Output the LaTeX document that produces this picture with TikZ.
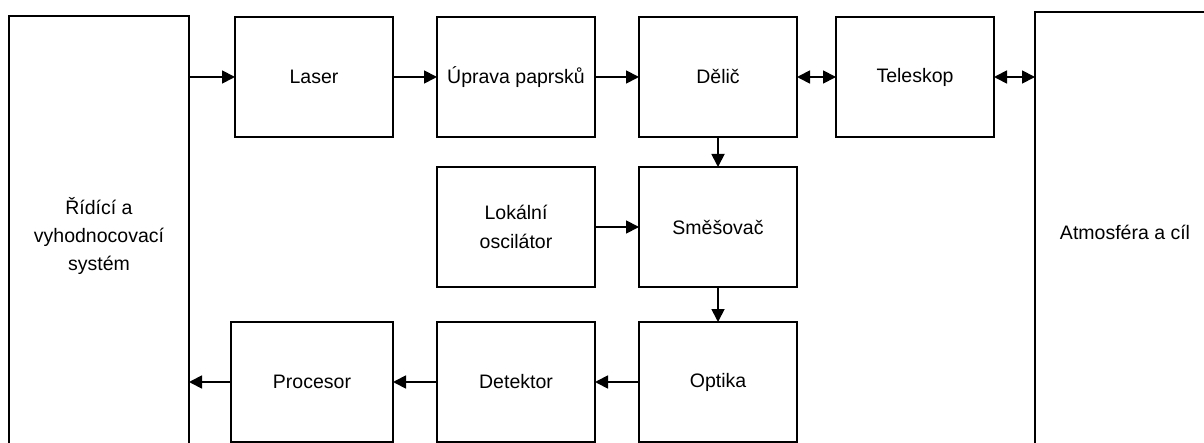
\documentclass[tikz,border=0pt]{standalone}
\usepackage{fontspec}
\setmainfont{Liberation Sans}
\usepackage{tikz}
\usetikzlibrary{arrows.meta,positioning}

\begin{document}
\begin{tikzpicture}[
  blk/.style={draw, line width=0.9pt, align=center, inner sep=2pt, outer sep=0pt,
              minimum width=79pt, minimum height=60pt,
              font=\fontsize{9.75}{14.2}\selectfont},
  sidebox/.style={blk, minimum width=90pt, minimum height=220pt},
  farr/.style={-{Triangle[length=6.5pt,width=6.5pt]}, line width=0.9pt},
  darr/.style={{Triangle[length=6.5pt,width=6.5pt]}-{Triangle[length=6.5pt,width=6.5pt]}, line width=0.9pt},
  node distance=22pt
]
\clip (0,0) rectangle (602pt,-221.5pt);
\node[sidebox] (ctrl) at (49.5pt,-118pt) {Řídící a\\vyhodnocovací\\systém};
\node[sidebox] (atm) at (562.5pt,-116pt) {Atmosféra a cíl};
\node[blk] (laser) at (157pt,-38.5pt) {Laser};
\node[blk, right=of laser] (uprava) {Úprava paprsků};
\node[blk, right=of uprava] (delic) {Dělič};
\node[blk, right=19.5pt of delic] (teleskop) {Teleskop};
\node[blk, below=15pt of delic] (smesovac) {Směšovač};
\node[blk, left=of smesovac] (lo) {Lokální\\oscilátor};
\node[blk, below=17.5pt of smesovac] (optika) {Optika};
\node[blk, left=of optika] (detektor) {Detektor};
\node[blk, left=of detektor, minimum width=81pt] (procesor) {Procesor};
\draw[farr] (laser -| ctrl.east) -- (laser);
\draw[farr] (laser) -- (uprava);
\draw[farr] (uprava) -- (delic);
\draw[darr] (delic) -- (teleskop);
\draw[darr] (teleskop) -- (teleskop -| atm.west);
\draw[farr] (delic) -- (smesovac);
\draw[farr] (lo) -- (smesovac);
\draw[farr] (smesovac) -- (optika);
\draw[farr] (optika) -- (detektor);
\draw[farr] (detektor) -- (procesor);
\draw[farr] (procesor) -- (procesor -| ctrl.east);
\end{tikzpicture}
\end{document}
